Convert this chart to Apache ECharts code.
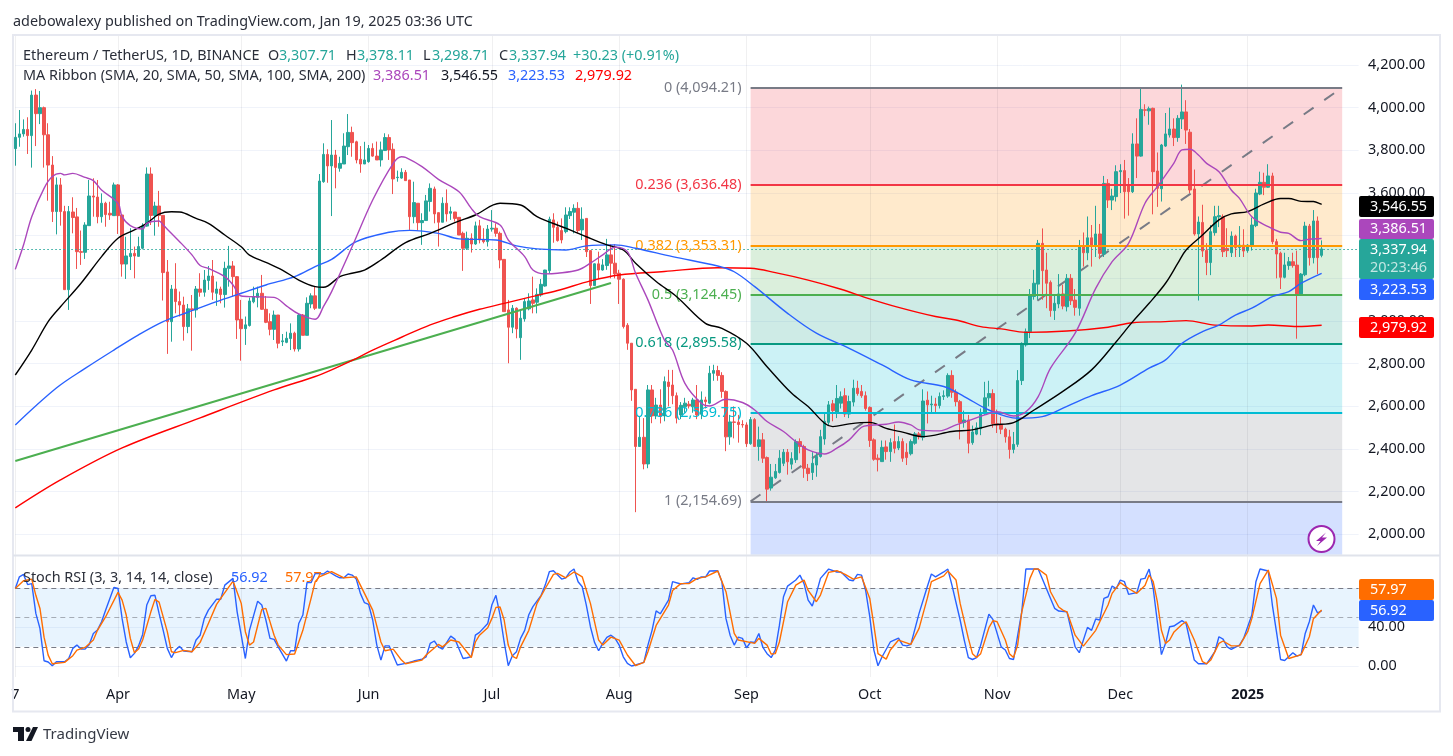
<!DOCTYPE html>
<html><head><meta charset="utf-8">
<style>html,body{margin:0;padding:0;background:#fff}#c{width:1453px;height:756px}</style>
<script src="https://cdn.jsdelivr.net/npm/echarts@6/dist/echarts.min.js"></script>
</head><body><div id="c"></div>
<script>
// open, close, low, high — one row per day from 7 Mar 2024
const candles=[
[3808,3861,3728,3927],[3861,3877,3817,3989],[3877,3898,3864,3945],[3898,3869,3783,3955],[3869,4059,3719,4080],[4059,3972,3820,4087],[3972,4000,3923,4078],[4000,3873,3719,4005],[3873,3731,3564,3927],[3731,3513,3464,3773],
[3513,3638,3406,3673],[3638,3513,3447,3670],[3513,3147,3147,3540],[3147,3513,3052,3539],[3511,3485,3411,3580],[3488,3325,3244,3530],[3325,3322,3263,3424],[3322,3450,3291,3463],[3447,3586,3447,3661],[3586,3581,3489,3669],
[3581,3489,3458,3661],[3489,3552,3461,3598],[3552,3499,3442,3559],[3505,3497,3474,3559],[3494,3638,3494,3649],[3638,3494,3408,3642],[3497,3267,3208,3497],[3267,3305,3197,3395],[3302,3317,3239,3435],[3317,3305,3200,3349],
[3303,3349,3302,3395],[3341,3445,3336,3458],[3445,3689,3442,3720],[3689,3495,3450,3720],[3495,3539,3400,3559],[3539,3495,3442,3610],[3495,3227,3096,3495],[3230,2997,2846,3286],[2997,3150,2903,3169],[3150,3091,3036,3271],
[3091,3075,3021,3138],[3075,2974,2908,3114],[2974,3057,2943,3080],[3057,3052,2861,3122],[3052,3150,3016,3164],[3150,3135,3114,3224],[3135,3192,3114,3239],[3190,3211,3146,3258],[3211,3135,3099,3286],[3130,3150,3071,3185],
[3150,3124,3083,3161],[3124,3247,3063,3278],[3247,3258,3161,3352],[3258,3208,3114,3281],[3208,3005,2916,3211],[3008,2964,2814,3099],[2964,2982,2888,3021],[2979,3094,2974,3110],[3090,3114,3083,3161],[3111,3130,3064,3161],
[3130,3055,3052,3216],[3055,2994,2990,3117],[2997,2961,2933,3036],[2961,3028,2911,3049],[3028,2896,2872,3028],[2903,2907,2883,2939],[2900,2919,2896,2950],[2918,2943,2864,2989],[2943,2869,2857,2950],[2869,3028,2857,3033],
[3028,2933,2933,3033],[2933,3083,2933,3111],[3080,3118,3060,3130],[3118,3060,3052,3161],[3060,3656,3060,3689],[3653,3781,3648,3833],[3781,3727,3648,3805],[3727,3778,3492,3942],[3778,3720,3622,3802],[3716,3739,3700,3770],
[3736,3820,3736,3880],[3817,3884,3778,3970],[3884,3836,3770,3911],[3840,3755,3739,3845],[3758,3736,3695,3820],[3736,3755,3736,3840],[3747,3809,3742,3825],[3809,3773,3770,3833],[3773,3755,3755,3841],[3755,3802,3724,3841],
[3799,3860,3798,3880],[3860,3802,3755,3875],[3805,3666,3595,3833],[3672,3674,3653,3705],[3670,3697,3667,3716],[3697,3658,3658,3708],[3661,3489,3427,3661],[3489,3555,3458,3653],[3552,3461,3424,3552],[3461,3471,3357,3505],
[3471,3563,3471,3591],[3560,3622,3513,3645],[3619,3502,3458,3630],[3508,3463,3349,3508],[3463,3552,3463,3580],[3552,3502,3466,3617],[3505,3513,3474,3536],[3511,3481,3466,3511],[3486,3403,3403,3486],[3411,3341,3235,3419],
[3341,3388,3333,3419],[3388,3361,3321,3411],[3361,3446,3357,3466],[3446,3380,3364,3474],[3383,3372,3364,3435],[3372,3431,3349,3450],[3431,3435,3419,3520],[3435,3411,3395,3458],[3411,3286,3247,3419],[3289,3044,3044,3289],
[3052,2971,2802,3099],[2971,3060,2943,3075],[3060,2963,2919,3064],[2922,3013,2818,3050],[3010,3091,2997,3107],[3057,3094,3050,3130],[3099,3083,3036,3208],[3088,3125,3036,3153],[3122,3172,3114,3197],[3164,3239,3161,3240],
[3236,3477,3224,3489],[3474,3439,3367,3505],[3439,3377,3372,3466],[3424,3380,3364,3481],[3419,3497,3411,3533],[3494,3513,3478,3533],[3510,3528,3411,3547],[3528,3424,3411,3557],[3427,3477,3380,3533],[3481,3325,3300,3481],
[3330,3166,3080,3330],[3166,3268,3166,3270],[3268,3239,3197,3325],[3239,3263,3236,3290],[3260,3310,3240,3385],[3310,3271,3200,3360],[3271,3221,3200,3360],[3224,3196,3080,3240],[3196,2974,2965,3200],[2980,2896,2865,2990],
[2896,2677,2626,2896],[2680,2412,2104,2680],[2412,2455,2412,2550],[2455,2330,2305,2545],[2330,2677,2310,2700],[2677,2555,2521,2700],[2555,2606,2540,2640],[2606,2555,2520,2680],[2555,2716,2530,2740],[2714,2693,2600,2771],
[2700,2650,2610,2771],[2650,2545,2520,2665],[2560,2605,2540,2620],[2598,2615,2570,2640],[2610,2602,2590,2625],[2598,2630,2570,2640],[2630,2560,2540,2700],[2563,2630,2540,2670],[2630,2622,2590,2645],[2615,2755,2610,2790],
[2755,2768,2720,2795],[2768,2745,2720,2790],[2745,2670,2640,2760],[2670,2457,2390,2675],[2457,2527,2420,2560],[2527,2525,2450,2600],[2526,2515,2430,2560],[2515,2513,2500,2535],[2513,2425,2410,2525],[2425,2538,2420,2550],
[2538,2412,2410,2545],[2412,2443,2345,2505],[2443,2357,2335,2475],[2360,2212,2150,2365],[2217,2268,2205,2330],[2265,2295,2260,2330],[2290,2357,2285,2395],[2333,2385,2320,2400],[2385,2340,2280,2400],[2329,2355,2305,2385],
[2350,2435,2335,2445],[2435,2412,2380,2450],[2412,2310,2265,2420],[2310,2285,2250,2330],[2290,2333,2255,2385],[2325,2365,2270,2385],[2365,2458,2360,2490],[2447,2530,2420,2565],[2525,2607,2510,2625],[2612,2580,2530,2630],
[2568,2637,2545,2700],[2615,2645,2590,2670],[2650,2564,2550,2685],[2564,2623,2545,2650],[2620,2685,2600,2725],[2685,2660,2650,2720],[2670,2650,2640,2700],[2650,2590,2580,2670],[2595,2440,2410,2600],[2443,2352,2345,2450],
[2357,2350,2295,2375],[2341,2408,2340,2440],[2410,2388,2350,2440],[2388,2430,2340,2450],[2435,2403,2380,2515],[2405,2435,2395,2460],[2435,2357,2340,2450],[2385,2360,2325,2427],[2378,2435,2370,2445],[2427,2471,2420,2480],
[2471,2458,2445,2480],[2455,2625,2440,2680],[2629,2607,2520,2670],[2607,2611,2570,2650],[2611,2604,2570,2640],[2604,2646,2590,2665],[2646,2650,2630,2675],[2648,2745,2640,2755],[2745,2666,2640,2769],[2666,2622,2600,2680],
[2622,2524,2445,2630],[2524,2536,2500,2580],[2536,2427,2380,2560],[2430,2480,2420,2510],[2470,2500,2465,2525],[2495,2567,2465,2590],[2567,2640,2560,2715],[2640,2660,2600,2720],[2660,2518,2500,2680],[2518,2513,2475,2585],
[2513,2493,2470,2550],[2493,2457,2430,2500],[2457,2398,2355,2490],[2398,2422,2380,2480],[2422,2721,2410,2770],[2721,2895,2700,2900],[2888,2950,2880,2965],[2950,3119,2920,3150],[3115,3177,3100,3240],[3173,3364,3099,3380],
[3364,3236,3100,3434],[3239,3177,3060,3320],[3181,3049,3020,3190],[3049,3083,3005,3120],[3080,3127,3060,3220],[3127,3070,3055,3170],[3067,3200,3045,3220],[3200,3095,3075,3220],[3098,3064,3025,3150],[3060,3350,3025,3380],
[3350,3320,3255,3415],[3320,3390,3285,3490],[3390,3350,3255,3450],[3350,3408,3300,3540],[3408,3317,3290,3455],[3314,3645,3300,3680],[3645,3567,3530,3665],[3567,3586,3520,3620],[3583,3700,3560,3730],[3700,3705,3600,3735],
[3705,3606,3480,3755],[3635,3606,3494,3670],[3606,3830,3600,3880],[3830,3773,3670,3950],[3773,3992,3770,4092],[3990,3988,3960,4016],[3985,3995,3920,4005],[3997,3700,3500,4000],[3703,3622,3535,3790],[3620,3825,3560,3830],
[3820,3877,3816,3975],[3872,3900,3860,4000],[3900,3860,3820,3950],[3860,3950,3840,3965],[3947,3980,3900,4108],[3980,3895,3830,4035],[3885,3614,3600,3900],[3619,3408,3400,3710],[3408,3464,3096,3490],[3462,3328,3300,3545],
[3331,3274,3215,3365],[3274,3419,3215,3450],[3414,3489,3400,3540],[3488,3494,3440,3540],[3489,3325,3300,3500],[3340,3330,3300,3435],[3320,3398,3300,3420],[3398,3345,3300,3405],[3345,3356,3300,3445],[3356,3328,3300,3430],
[3330,3356,3320,3360],[3350,3450,3330,3485],[3447,3600,3440,3620],[3595,3650,3590,3700],[3650,3627,3590,3695],[3627,3680,3625,3735],[3680,3372,3360,3695],[3372,3314,3200,3385],[3318,3205,3150,3325],[3205,3263,3200,3320],
[3260,3278,3240,3300],[3278,3260,3250,3320],[3262,3127,2917,3330],[3127,3220,3120,3225],[3217,3445,3210,3465],[3445,3297,3260,3455],[3297,3469,3270,3520],[3469,3297,3220,3490],[3307.71,3337.94,3298.71,3378.11]
];
// moving averages: [day index, price]
const ma20=[[0,3242],[2,3356],[4,3489],[7,3622],[9,3677],[11,3692],[12,3685],[14,3692],[17,3673],[19,3658],[21,3614],[25,3552],[26,3489],[28,3447],[31,3431],[32,3458],[35,3469],[36,3450],[40,3372],[43,3310],[45,3260],[47,3247],[51,3208],[53,3169],[55,3117],[58,3114],[63,3111],[66,3071],[69,3033],[73,3008],[75,3067],[77,3138],[82,3349],[87,3567],[92,3739],[94,3770],[95,3767],[99,3724],[103,3664],[108,3606],[111,3528],[113,3489],[118,3450],[120,3380],[124,3302],[126,3239],[129,3221],[132,3224],[137,3239],[140,3271],[143,3310],[146,3346],[149,3325],[151,3224],[154,3099],[158,2911],[160,2864],[163,2708],[167,2615],[169,2602],[173,2633],[177,2618],[180,2583],[183,2529],[187,2482],[190,2435],[193,2396],[197,2377],[200,2404],[203,2443],[206,2502],[208,2511],[212,2516],[215,2527],[218,2513],[220,2490],[225,2485],[229,2513],[232,2533],[236,2560],[239,2575],[243,2555],[246,2575],[249,2646],[252,2779],[258,2943],[263,3153],[267,3278],[271,3364],[275,3552],[278,3630],[282,3739],[284,3802],[286,3805],[288,3778],[290,3739],[293,3700],[296,3614],[298,3575],[301,3489],[305,3442],[308,3416],[310,3411],[313,3377],[315,3383],[318,3386.51]];
const ma50=[[0,2747],[4,2864],[8,2997],[11,3067],[16,3177],[21,3302],[25,3388],[29,3427],[32,3458],[35,3501],[38,3512],[40,3511],[44,3481],[47,3458],[51,3403],[55,3348],[57,3309],[61,3275],[65,3239],[69,3192],[73,3161],[75,3158],[79,3208],[81,3220],[85,3239],[89,3286],[95,3367],[101,3411],[107,3461],[112,3497],[118,3552],[123,3544],[127,3489],[134,3435],[139,3395],[144,3357],[148,3333],[151,3271],[156,3185],[161,3114],[168,2989],[172,2966],[178,2896],[183,2786],[189,2661],[193,2599],[197,2521],[199,2505],[203,2518],[208,2525],[212,2497],[216,2479],[221,2458],[228,2482],[233,2490],[238,2513],[243,2524],[248,2583],[255,2670],[262,2771],[268,2903],[272,2997],[276,3083],[280,3177],[283,3271],[285,3333],[289,3403],[293,3474],[296,3502],[300,3513],[304,3549],[308,3574],[310,3574],[313,3561],[316,3560],[318,3546.55]];
const ma100=[[0,2513],[10,2686],[17,2778],[24,2864],[30,2935],[36,2997],[42,3041],[49,3091],[55,3130],[61,3169],[68,3208],[73,3255],[77,3289],[83,3372],[91,3416],[96,3425],[103,3411],[108,3385],[117,3380],[122,3352],[127,3338],[134,3333],[139,3352],[146,3357],[151,3341],[160,3302],[171,3258],[175,3231],[180,3161],[188,3036],[195,2943],[203,2872],[211,2794],[218,2724],[226,2693],[231,2646],[237,2583],[244,2544],[250,2552],[256,2600],[262,2650],[269,2700],[276,2779],[280,2818],[284,2895],[289,2950],[293,2981],[297,3028],[301,3060],[306,3114],[310,3138],[313,3177],[318,3223.53]];
const ma200=[[0,2124],[11,2255],[26,2405],[45,2546],[63,2677],[73,2740],[77,2771],[82,2815],[87,2864],[94,2924],[101,2982],[107,3021],[113,3055],[119,3083],[125,3111],[132,3143],[140,3188],[147,3216],[158,3232],[171,3250],[179,3247],[185,3227],[193,3192],[201,3149],[207,3110],[215,3064],[224,3021],[229,3005],[235,2974],[240,2963],[246,2947],[256,2953],[266,2971],[272,2992],[280,2997],[285,3002],[292,2981],[301,2977],[305,2981],[312,2974],[318,2979.92]];
const supportLine=[[0,2344],[145,3178]];
const fibTrend=[[179,2154.69],[323,4094.21]];
const fibRatios=['0','0.236','0.382','0.5','0.618','0.786','1'];
const fibPrices=[4094.21,3636.48,3353.31,3124.45,2895.58,2569.75,2154.69];
const fibLine=['#787b86','#f23645','#ff9800','#4caf50','#089981','#00bcd4','#787b86'];
const fibFill=['rgba(242,54,69,.2)','rgba(255,152,0,.2)','rgba(76,175,80,.2)','rgba(8,153,129,.2)','rgba(0,188,212,.2)','rgba(120,123,134,.2)','rgba(41,98,255,.2)'];
// Stochastic RSI: [day index, value]
const stochK=[[0,80],[1,92],[2,94.5],[3,84],[4,85],[5,54.4],[6,39],[7,5.7],[8,4.4],[9,.6],[10,4.7],[12,4.7],[13,8],[14,18.4],[15,21.8],[16,17.7],[17,17.7],[18,22.5],[19,33.8],[20,37.3],[21,45.8],[22,57.8],[24,81],[25,80],[26,49],[27,25],[28,8.8],[29,13.3],[30,21],[31,32.8],[32,63],[33,72.6],[34,73],[35,54.4],[36,37],[37,18.4],[38,9],[39,16.7],[40,20.5],[41,15.7],[43,15],[44,27],[45,32],[46,49],[47,57.8],[49,69],[50,69],[51,83.5],[53,90.4],[54,56],[55,32],[56,8],[57,37],[59,67],[60,63],[61,47.6],[62,28.7],[63,27.7],[64,20],[66,5.4],[67,16],[68,16],[69,44],[70,52.7],[71,86],[72,86],[73,95.5],[75,94.9],[76,98],[78,93],[79,91],[80,91],[81,94.9],[82,93.8],[83,89.7],[84,75],[85,65.4],[86,63.7],[87,47.6],[88,21.8],[89,6.4],[90,21],[91,21],[93,1.3],[95,3],[97,5.4],[99,7.4],[100,9.8],[101,23.6],[102,26],[103,20],[104,17.7],[106,31],[107,28],[109,8],[110,8.8],[111,10],[112,32],[113,34.9],[115,44],[116,63],[117,73],[118,52.7],[119,25],[120,.6],[121,10.9],[122,15],[123,28.7],[124,37],[125,53],[126,61.3],[128,73],[129,83.5],[130,97.3],[131,98.3],[133,89.7],[134,91],[135,97],[136,100],[137,87],[138,81.8],[139,63],[140,40.7],[141,24.6],[142,16],[143,23.6],[144,29.7],[145,32],[146,28.7],[147,21.8],[148,9.8],[149,3],[150,.3],[151,1.3],[153,4],[154,21.8],[155,37],[156,57],[157,54],[159,68],[160,87],[162,84.6],[164,86],[165,91],[166,89.4],[167,92],[168,91.8],[169,98],[171,98.3],[172,87],[173,49],[174,32],[175,21.8],[176,30],[177,28.7],[178,19],[179,25],[180,24.6],[181,33.8],[182,19.4],[183,13],[184,9],[185,16.7],[186,42],[187,71.5],[188,82.5],[190,88.7],[191,93.8],[192,85],[193,68],[194,62],[195,75],[196,90.4],[198,100],[200,97],[201,97],[203,88.7],[204,88],[205,94.5],[206,93.8],[207,78],[208,51],[209,16.7],[210,.6],[211,9.8],[213,25],[215,29],[216,21.8],[217,21],[218,22.5],[220,54.4],[222,81.8],[223,94.9],[224,92],[226,97],[227,100],[228,83.5],[230,47.6],[231,27],[232,9],[233,7],[234,9],[235,21.8],[237,53.7],[238,48],[240,20],[241,16.7],[242,8],[243,7],[245,56],[246,100],[249,100],[250,90],[252,69.8],[253,59.6],[254,56.8],[256,56],[258,20],[259,14],[261,40],[262,37],[263,48.6],[264,47.6],[265,69.8],[266,71.5],[267,82.5],[268,80],[269,88.7],[270,87],[271,74],[273,75.7],[274,89.7],[275,90.4],[276,100],[277,80],[278,45.8],[279,12],[280,23.6],[281,40.7],[282,41.4],[284,46.9],[285,44],[286,25],[287,6.4],[288,2.6],[290,2.6],[292,15],[293,30.4],[294,28],[295,20],[296,17.4],[298,21.8],[299,28.7],[301,52.7],[302,87],[303,100],[305,98],[306,63],[307,35.6],[308,7],[309,6],[311,14],[312,10.5],[313,12],[314,33.8],[315,45.8],[316,63],[317,55],[318,56.92]];
const stochD=[[0,80],[2,88],[4,89.7],[5,73],[6,59.5],[7,30],[8,11.5],[9,2.6],[12,4],[14,10.9],[15,16.7],[17,19.4],[19,27],[20,37],[22,51],[25,76],[26,68],[27,52.7],[28,28.7],[29,14],[30,17.7],[31,27],[33,56],[34,68.8],[35,66],[37,35.6],[38,15],[39,14],[41,16.4],[43,15],[45,24.6],[47,44],[49,63.7],[50,69.8],[53,87.6],[55,64.7],[56,35.6],[57,21.8],[58,25],[60,58.5],[61,59.6],[63,32],[64,21.8],[66,12],[68,12.6],[70,37],[72,69.8],[73,87],[74,92],[77,97.3],[80,91],[83,92],[85,75],[87,57.8],[89,25],[90,16],[92,17.7],[94,6.4],[95,2.6],[99,6.4],[100,11.6],[103,22.5],[104,20],[106,27],[108,25],[111,9],[112,25],[113,32],[115,39.7],[116,49],[117,60.6],[118,61],[119,47.6],[120,21.8],[121,10.5],[122,8],[123,20],[125,37],[127,64.7],[129,80],[131,94.5],[132,95.5],[134,91],[136,97],[138,92],[140,64.7],[142,27],[143,21.8],[145,30],[147,27],[149,11.6],[151,.6],[153,4],[154,15],[156,42],[159,63],[160,78],[162,85],[164,85],[166,90.4],[168,92],[171,98],[173,76.7],[175,33.8],[176,27],[180,23.6],[181,28.7],[183,21.8],[184,12.6],[185,13],[186,25],[188,66.4],[190,83.5],[192,88.7],[193,78],[195,66.4],[196,73.3],[198,96.6],[200,98.3],[202,94.5],[204,89.7],[206,92],[208,69.8],[209,42],[210,13],[212,7.4],[213,16.7],[215,27],[218,22.5],[220,39],[222,69.8],[223,87],[226,93],[227,97.9],[229,88.7],[230,64.7],[232,28.7],[233,13],[234,9],[235,13],[237,39.7],[238,46.9],[239,45.8],[241,27],[242,13],[243,9],[244,21.8],[245,56],[247,90.4],[248,100],[249,100],[251,93.8],[252,76.7],[254,61],[255,57.8],[256,56],[258,32],[260,20.8],[263,37],[264,45.8],[266,63],[267,75],[269,86],[271,80],[273,75],[275,83],[276,93.8],[277,87],[278,66.4],[279,37],[280,23.6],[281,27],[282,34.9],[284,43],[285,45.8],[287,27],[289,4.7],[290,2.6],[291,6.4],[293,23.6],[294,26],[296,21],[298,21],[300,35.6],[301,49],[303,85],[305,99],[307,69.8],[308,32],[310,8],[313,12],[315,30.4],[316,49],[318,57.97]];
const tickIndex=[0,25,55,86,116,147,178,208,239,269,300];
const tickLabels=['7','Apr','May','Jun','Jul','Aug','Sep','Oct','Nov','Dec','2025'];
const dayCount=328;
const FONT='"Noto Sans",sans-serif';
const FS=14.4;
const INK='#131722';
const days=[];for(let i=0;i<dayCount;i++){days.push(new Date(Date.UTC(2024,2,7+i)).toISOString().slice(0,10));}
const money=v=>v.toLocaleString('en-US',{minimumFractionDigits:2,maximumFractionDigits:2});
const STEP=4.108,LEFT=15.3,WIDTH=STEP*(dayCount-1);
const PXU=42.67/200;
const maLine=(name,data,color)=>({name,type:'line',data,xAxisIndex:0,yAxisIndex:0,symbol:'none',smooth:.35,silent:true,z:6,lineStyle:{color,width:1.4}});
const fibAreas=fibPrices.map((p,i)=>[{coord:[179,p],itemStyle:{color:fibFill[i]}},{coord:[323,i<6?fibPrices[i+1]:1904]}]);
const fibMarks=fibPrices.map((p,i)=>[{coord:[179,p],lineStyle:{color:fibLine[i],width:2,type:'solid'},label:{show:true,position:'start',distance:9,padding:[3,0,0,0],color:fibLine[i],fontFamily:FONT,fontSize:FS,formatter:fibRatios[i]+' ('+money(p)+')'}},{coord:[323,p]}]);
const priceGrid=tickIndex.map(i=>[{coord:[i,1904],lineStyle:{color:'rgba(42,46,57,.07)',width:1,type:'solid'},label:{show:false}},{coord:[i,4340]}]);
const rsiGrid=tickIndex.map(i=>[{coord:[i,-11],lineStyle:{color:'rgba(42,46,57,.07)',width:1,type:'solid'},label:{show:false}},{coord:[i,114]}]);
const chart=echarts.init(document.getElementById('c'),null,{renderer:'canvas'});
const T=(x,y,text,fill,size)=>({type:'text',x,y:y+1.5,z:60,silent:true,style:{text,fill:fill||INK,font:(size||FS)+'px '+FONT,textVerticalAlign:'middle'}});
const R=(x,y,w,h,fill)=>({type:'rect',z:55,silent:true,shape:{x,y,width:w,height:h,r:2},style:{fill}});
const last=candles[candles.length-1];
const DK='#2a2e39';
const gfx=[
 {type:'rect',z:50,silent:true,shape:{x:13,y:35,width:1427,height:676.5},style:{fill:'none',stroke:'#e6e8f0',lineWidth:2}},
 {type:'line',z:50,silent:true,shape:{x1:13,y1:555.5,x2:1440,y2:555.5},style:{stroke:'#e0e3eb',lineWidth:2}},
 T(13,20,'adebowalexy published on TradingView.com, Jan 19, 2025 03:36 UTC',DK),
 T(23,54,'Ethereum / TetherUS, 1D, BINANCE',DK),
 T(268,54,'O',DK),T(279,54,money(last[0]),'#26a69a'),
 T(346,54,'H',DK),T(357,54,money(last[3]),'#26a69a'),
 T(423,54,'L',DK),T(432,54,money(last[2]),'#26a69a'),
 T(499,54,'C',DK),T(509,54,money(last[1]),'#26a69a'),
 T(573,54,'+30.23 (+0.91%)','#26a69a'),
 T(23,74,'MA Ribbon (SMA, 20, SMA, 50, SMA, 100, SMA, 200)',DK),
 T(373,74,money(3386.51),'#ab47bc'),T(441,74,money(3546.55),'#131722'),T(508,74,money(3223.53),'#2962ff'),T(575,74,money(2979.92),'#ff0000'),
 T(23,576,'Stoch RSI (3, 3, 14, 14, close)',DK),T(231,576,'56.92','#2962ff'),T(285,576,'57.97','#ff6d00'),
 R(1359,196,75,21,'#000000'),T(1370,205,money(3546.55),'#fff'),
 R(1359,219,75,20,'#ab47bc'),T(1370,227.5,money(3386.51),'#fff'),
 R(1359,239,75,40,'#26a69a'),T(1370,248,money(last[1]),'#fff'),T(1370,266.5,'20:23:46','rgba(255,255,255,.72)'),
 R(1359,279,75,21,'#2962ff'),T(1370,288,money(3223.53),'#fff'),
 R(1359,317,75,21,'#ff0000'),T(1370,326,money(2979.92),'#fff'),
 R(1359,579,75,21,'#ff6d00'),T(1370,588,'57.97','#fff'),
 R(1359,600,75,21,'#2962ff'),T(1370,609,'56.92','#fff'),
 {type:'circle',z:50,silent:true,shape:{cx:1321.5,cy:539,r:13},style:{fill:'#fff',stroke:'#9c27b0',lineWidth:2}},
 {type:'polygon',z:51,silent:true,shape:{points:[[1326,532.5],[1316,541],[1320.5,541],[1317,546],[1327,537.5],[1322,537.5]]},style:{fill:'#9c27b0'}},
 {type:'rect',z:50,silent:true,shape:{x:13,y:727,width:11,height:5},style:{fill:'#131722'}},
 {type:'rect',z:50,silent:true,shape:{x:18,y:727,width:6,height:14},style:{fill:'#131722'}},
 {type:'circle',z:50,silent:true,shape:{cx:28,cy:729.5,r:2.5},style:{fill:'#131722'}},
 {type:'polygon',z:50,silent:true,shape:{points:[[33,727],[38,727],[31.5,741],[26,741]]},style:{fill:'#131722'}},
 T(43,733,'TradingView','#363a45',15)
];
chart.setOption({
 animation:false,backgroundColor:'#fff',textStyle:{fontFamily:FONT},
 grid:[
  {left:LEFT,width:WIDTH,top:65-200*PXU,height:2600*PXU,containLabel:false},
  {left:LEFT,width:WIDTH,top:666.3-120*.9725,height:160*.9725,containLabel:false}
 ],
 xAxis:[
  {type:'category',gridIndex:0,data:days,boundaryGap:false,axisLine:{show:false},axisTick:{show:false},axisLabel:{show:false},splitLine:{show:false}},
  {type:'category',gridIndex:1,data:days,boundaryGap:false,axisLine:{show:false},axisTick:{show:false},splitLine:{show:false},
   axisLabel:{inside:true,margin:3,color:INK,fontSize:FS,fontFamily:FONT,interval:(i)=>tickIndex.includes(i),
    formatter:(v,i)=>{const k=tickIndex.indexOf(i);if(k<0)return '';return tickLabels[k]==='2025'?'{b|2025}':tickLabels[k];},
    rich:{b:{fontWeight:'bold',fontSize:FS,color:INK,fontFamily:FONT}}}}
 ],
 yAxis:[
  {type:'value',gridIndex:0,position:'right',min:1800,max:4400,interval:200,axisLine:{show:false},axisTick:{show:false},
   axisLabel:{color:INK,fontSize:FS,fontFamily:FONT,margin:9.5,padding:[3,0,0,0],showMinLabel:false,showMaxLabel:false,formatter:v=>money(v)},
   splitLine:{show:true,showMinLine:false,showMaxLine:false,lineStyle:{color:'#f0f3fa',width:1}}},
  {type:'value',gridIndex:1,position:'right',min:-40,max:120,interval:40,axisLine:{show:false},axisTick:{show:false},
   axisLabel:{color:INK,fontSize:FS,fontFamily:FONT,margin:9.5,padding:[3,0,0,0],showMinLabel:false,showMaxLabel:false,formatter:v=>money(v)},
   splitLine:{show:true,showMinLine:false,showMaxLine:false,lineStyle:{color:'#f0f3fa',width:1}}}
 ],
 series:[
  {name:'Fib trend',type:'line',data:fibTrend,xAxisIndex:0,yAxisIndex:0,symbol:'none',silent:true,z:2,clip:false,
   lineStyle:{color:'#787b86',width:2,type:[12,13]},
   markArea:{silent:true,data:fibAreas},
   markLine:{silent:true,symbol:'none',precision:2,animation:false,data:priceGrid.concat(fibMarks)}},
  {name:'Candles',type:'candlestick',data:candles,xAxisIndex:0,yAxisIndex:0,barWidth:3,clip:false,silent:true,z:4,
   itemStyle:{color:'#26a69a',color0:'#ef5350',borderColor:'#26a69a',borderColor0:'#ef5350',borderWidth:1},
   markLine:{silent:true,symbol:'none',animation:false,label:{show:false},data:[[{coord:[0,last[1]],lineStyle:{color:'#26a69a',width:1,type:[1.5,2.5],opacity:1}},{coord:[dayCount-1,last[1]]}]]}},
  {name:'Support',type:'line',data:supportLine,xAxisIndex:0,yAxisIndex:0,symbol:'none',silent:true,z:5,lineStyle:{color:'#4caf50',width:2}},
  maLine('SMA 200',ma200,'#ff0000'),maLine('SMA 100',ma100,'#2962ff'),maLine('SMA 50',ma50,'#000000'),maLine('SMA 20',ma20,'#ab47bc'),
  {name:'%K',type:'line',data:stochK,xAxisIndex:1,yAxisIndex:1,symbol:'none',silent:true,z:6,lineStyle:{color:'#2962ff',width:1.4},
   markArea:{silent:true,itemStyle:{color:'rgba(33,150,243,.1)'},data:[[{coord:[0,80]},{coord:[dayCount-1,20]}]]},
   markLine:{silent:true,symbol:'none',animation:false,label:{show:false},data:rsiGrid.concat([
     [{coord:[0,80],lineStyle:{color:'#787b86',width:1,type:[5,4]}},{coord:[dayCount-1,80]}],
     [{coord:[0,50],lineStyle:{color:'rgba(120,123,134,.6)',width:1,type:[5,4]}},{coord:[dayCount-1,50]}],
     [{coord:[0,20],lineStyle:{color:'#787b86',width:1,type:[5,4]}},{coord:[dayCount-1,20]}]])}},
  {name:'%D',type:'line',data:stochD,xAxisIndex:1,yAxisIndex:1,symbol:'none',silent:true,z:7,lineStyle:{color:'#ff6d00',width:1.4}}
 ],
 graphic:{elements:gfx}
});
</script></body></html>
